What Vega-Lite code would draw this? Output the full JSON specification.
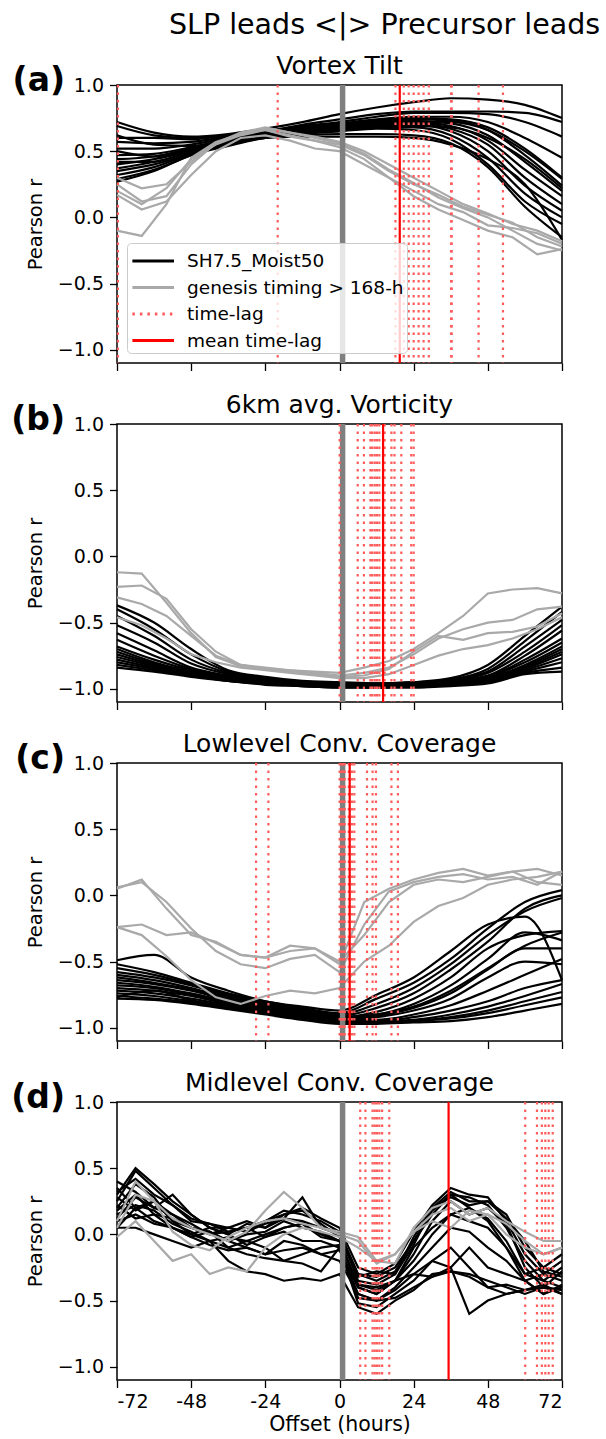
{
"$schema":"https://vega.github.io/schema/vega-lite/v6.json",
"background":"white",
"padding":{"left":10,"top":10,"right":5,"bottom":0},
"title":{"text":"SLP leads <|> Precursor leads","fontSize":28.5,"anchor":"end","dx":33,"offset":14},
"spacing":20,
"resolve":{"scale":{"color":"independent","strokeDash":"independent"}},
"config":{
 "font":"DejaVu Sans",
 "view":{"stroke":"#000000","strokeWidth":1.5},
 "axis":{"grid":false,"domain":false,"tickColor":"#000000","tickSize":7.5,"tickWidth":1.3,"labelColor":"#000000","labelFontSize":19,"labelFont":"DejaVu Sans","titleFont":"DejaVu Sans","titleFontSize":19.5,"titleFontWeight":"normal","titleColor":"#000000","labelPadding":6},
 "title":{"font":"DejaVu Sans","fontSize":25,"fontWeight":"normal","color":"#000000","offset":-14}
},
"datasets":{
"a":[
{"k":"b","s":1,"x":-72,"y":0.72},{"k":"b","s":1,"x":-60,"y":0.64},{"k":"b","s":1,"x":-48,"y":0.61},{"k":"b","s":1,"x":-36,"y":0.63},{"k":"b","s":1,"x":-24,"y":0.67},{"k":"b","s":1,"x":-12,"y":0.72},{"k":"b","s":1,"x":0,"y":0.78},{"k":"b","s":1,"x":12,"y":0.83},{"k":"b","s":1,"x":24,"y":0.87},{"k":"b","s":1,"x":36,"y":0.9},{"k":"b","s":1,"x":48,"y":0.89},{"k":"b","s":1,"x":60,"y":0.85},{"k":"b","s":1,"x":72,"y":0.75},
{"k":"b","s":2,"x":-72,"y":0.69},{"k":"b","s":2,"x":-60,"y":0.62},{"k":"b","s":2,"x":-48,"y":0.6},{"k":"b","s":2,"x":-36,"y":0.62},{"k":"b","s":2,"x":-24,"y":0.65},{"k":"b","s":2,"x":-12,"y":0.7},{"k":"b","s":2,"x":0,"y":0.74},{"k":"b","s":2,"x":12,"y":0.78},{"k":"b","s":2,"x":24,"y":0.8},{"k":"b","s":2,"x":36,"y":0.8},{"k":"b","s":2,"x":48,"y":0.8},{"k":"b","s":2,"x":60,"y":0.79},{"k":"b","s":2,"x":72,"y":0.72},
{"k":"b","s":3,"x":-72,"y":0.6},{"k":"b","s":3,"x":-60,"y":0.6},{"k":"b","s":3,"x":-48,"y":0.59},{"k":"b","s":3,"x":-36,"y":0.62},{"k":"b","s":3,"x":-24,"y":0.65},{"k":"b","s":3,"x":-12,"y":0.69},{"k":"b","s":3,"x":0,"y":0.72},{"k":"b","s":3,"x":12,"y":0.76},{"k":"b","s":3,"x":24,"y":0.79},{"k":"b","s":3,"x":36,"y":0.79},{"k":"b","s":3,"x":48,"y":0.78},{"k":"b","s":3,"x":60,"y":0.72},{"k":"b","s":3,"x":72,"y":0.61},
{"k":"b","s":4,"x":-72,"y":0.57},{"k":"b","s":4,"x":-60,"y":0.56},{"k":"b","s":4,"x":-48,"y":0.57},{"k":"b","s":4,"x":-36,"y":0.61},{"k":"b","s":4,"x":-24,"y":0.64},{"k":"b","s":4,"x":-12,"y":0.68},{"k":"b","s":4,"x":0,"y":0.71},{"k":"b","s":4,"x":12,"y":0.74},{"k":"b","s":4,"x":24,"y":0.76},{"k":"b","s":4,"x":36,"y":0.76},{"k":"b","s":4,"x":48,"y":0.72},{"k":"b","s":4,"x":60,"y":0.6},{"k":"b","s":4,"x":72,"y":0.45},
{"k":"b","s":5,"x":-72,"y":0.52},{"k":"b","s":5,"x":-60,"y":0.52},{"k":"b","s":5,"x":-48,"y":0.55},{"k":"b","s":5,"x":-36,"y":0.6},{"k":"b","s":5,"x":-24,"y":0.64},{"k":"b","s":5,"x":-12,"y":0.67},{"k":"b","s":5,"x":0,"y":0.7},{"k":"b","s":5,"x":12,"y":0.73},{"k":"b","s":5,"x":24,"y":0.75},{"k":"b","s":5,"x":36,"y":0.74},{"k":"b","s":5,"x":48,"y":0.68},{"k":"b","s":5,"x":60,"y":0.52},{"k":"b","s":5,"x":72,"y":0.3},
{"k":"b","s":6,"x":-72,"y":0.47},{"k":"b","s":6,"x":-60,"y":0.48},{"k":"b","s":6,"x":-48,"y":0.53},{"k":"b","s":6,"x":-36,"y":0.59},{"k":"b","s":6,"x":-24,"y":0.63},{"k":"b","s":6,"x":-12,"y":0.66},{"k":"b","s":6,"x":0,"y":0.69},{"k":"b","s":6,"x":12,"y":0.72},{"k":"b","s":6,"x":24,"y":0.74},{"k":"b","s":6,"x":36,"y":0.73},{"k":"b","s":6,"x":48,"y":0.66},{"k":"b","s":6,"x":60,"y":0.47},{"k":"b","s":6,"x":72,"y":0.24},
{"k":"b","s":7,"x":-72,"y":0.44},{"k":"b","s":7,"x":-60,"y":0.46},{"k":"b","s":7,"x":-48,"y":0.52},{"k":"b","s":7,"x":-36,"y":0.58},{"k":"b","s":7,"x":-24,"y":0.63},{"k":"b","s":7,"x":-12,"y":0.66},{"k":"b","s":7,"x":0,"y":0.69},{"k":"b","s":7,"x":12,"y":0.71},{"k":"b","s":7,"x":24,"y":0.73},{"k":"b","s":7,"x":36,"y":0.71},{"k":"b","s":7,"x":48,"y":0.62},{"k":"b","s":7,"x":60,"y":0.42},{"k":"b","s":7,"x":72,"y":0.2},
{"k":"b","s":8,"x":-72,"y":0.4},{"k":"b","s":8,"x":-60,"y":0.44},{"k":"b","s":8,"x":-48,"y":0.5},{"k":"b","s":8,"x":-36,"y":0.57},{"k":"b","s":8,"x":-24,"y":0.62},{"k":"b","s":8,"x":-12,"y":0.65},{"k":"b","s":8,"x":0,"y":0.68},{"k":"b","s":8,"x":12,"y":0.7},{"k":"b","s":8,"x":24,"y":0.72},{"k":"b","s":8,"x":36,"y":0.69},{"k":"b","s":8,"x":48,"y":0.58},{"k":"b","s":8,"x":60,"y":0.36},{"k":"b","s":8,"x":72,"y":0.16},
{"k":"b","s":9,"x":-72,"y":0.37},{"k":"b","s":9,"x":-60,"y":0.42},{"k":"b","s":9,"x":-48,"y":0.49},{"k":"b","s":9,"x":-36,"y":0.56},{"k":"b","s":9,"x":-24,"y":0.62},{"k":"b","s":9,"x":-12,"y":0.65},{"k":"b","s":9,"x":0,"y":0.68},{"k":"b","s":9,"x":12,"y":0.7},{"k":"b","s":9,"x":24,"y":0.71},{"k":"b","s":9,"x":36,"y":0.67},{"k":"b","s":9,"x":48,"y":0.55},{"k":"b","s":9,"x":60,"y":0.3},{"k":"b","s":9,"x":72,"y":0.1},
{"k":"b","s":10,"x":-72,"y":0.35},{"k":"b","s":10,"x":-60,"y":0.4},{"k":"b","s":10,"x":-48,"y":0.48},{"k":"b","s":10,"x":-36,"y":0.56},{"k":"b","s":10,"x":-24,"y":0.61},{"k":"b","s":10,"x":-12,"y":0.64},{"k":"b","s":10,"x":0,"y":0.67},{"k":"b","s":10,"x":12,"y":0.69},{"k":"b","s":10,"x":24,"y":0.7},{"k":"b","s":10,"x":36,"y":0.65},{"k":"b","s":10,"x":48,"y":0.5},{"k":"b","s":10,"x":60,"y":0.24},{"k":"b","s":10,"x":72,"y":0.05},
{"k":"b","s":11,"x":-72,"y":0.32},{"k":"b","s":11,"x":-60,"y":0.38},{"k":"b","s":11,"x":-48,"y":0.48},{"k":"b","s":11,"x":-36,"y":0.55},{"k":"b","s":11,"x":-24,"y":0.61},{"k":"b","s":11,"x":-12,"y":0.64},{"k":"b","s":11,"x":0,"y":0.66},{"k":"b","s":11,"x":12,"y":0.68},{"k":"b","s":11,"x":24,"y":0.68},{"k":"b","s":11,"x":36,"y":0.62},{"k":"b","s":11,"x":48,"y":0.45},{"k":"b","s":11,"x":60,"y":0.18},{"k":"b","s":11,"x":72,"y":0.0},
{"k":"b","s":12,"x":-72,"y":0.29},{"k":"b","s":12,"x":-60,"y":0.36},{"k":"b","s":12,"x":-48,"y":0.47},{"k":"b","s":12,"x":-36,"y":0.55},{"k":"b","s":12,"x":-24,"y":0.6},{"k":"b","s":12,"x":-12,"y":0.63},{"k":"b","s":12,"x":0,"y":0.65},{"k":"b","s":12,"x":12,"y":0.67},{"k":"b","s":12,"x":24,"y":0.66},{"k":"b","s":12,"x":36,"y":0.59},{"k":"b","s":12,"x":48,"y":0.4},{"k":"b","s":12,"x":60,"y":0.12},{"k":"b","s":12,"x":72,"y":-0.05},
{"k":"b","s":13,"x":-72,"y":0.27},{"k":"b","s":13,"x":-60,"y":0.35},{"k":"b","s":13,"x":-48,"y":0.47},{"k":"b","s":13,"x":-36,"y":0.54},{"k":"b","s":13,"x":-24,"y":0.6},{"k":"b","s":13,"x":-12,"y":0.62},{"k":"b","s":13,"x":0,"y":0.63},{"k":"b","s":13,"x":12,"y":0.63},{"k":"b","s":13,"x":24,"y":0.62},{"k":"b","s":13,"x":36,"y":0.56},{"k":"b","s":13,"x":48,"y":0.38},{"k":"b","s":13,"x":60,"y":0.08},{"k":"b","s":13,"x":72,"y":-0.15},
{"k":"b","s":14,"x":-72,"y":0.42},{"k":"b","s":14,"x":-60,"y":0.42},{"k":"b","s":14,"x":-48,"y":0.5},{"k":"b","s":14,"x":-36,"y":0.56},{"k":"b","s":14,"x":-24,"y":0.6},{"k":"b","s":14,"x":-12,"y":0.61},{"k":"b","s":14,"x":0,"y":0.61},{"k":"b","s":14,"x":12,"y":0.61},{"k":"b","s":14,"x":24,"y":0.6},{"k":"b","s":14,"x":36,"y":0.55},{"k":"b","s":14,"x":48,"y":0.44},{"k":"b","s":14,"x":60,"y":0.25},{"k":"b","s":14,"x":72,"y":-0.17},
{"k":"b","s":15,"x":-72,"y":0.5},{"k":"b","s":15,"x":-60,"y":0.46},{"k":"b","s":15,"x":-48,"y":0.51},{"k":"b","s":15,"x":-36,"y":0.57},{"k":"b","s":15,"x":-24,"y":0.62},{"k":"b","s":15,"x":-12,"y":0.64},{"k":"b","s":15,"x":0,"y":0.66},{"k":"b","s":15,"x":12,"y":0.68},{"k":"b","s":15,"x":24,"y":0.69},{"k":"b","s":15,"x":36,"y":0.68},{"k":"b","s":15,"x":48,"y":0.6},{"k":"b","s":15,"x":60,"y":0.44},{"k":"b","s":15,"x":72,"y":0.22},
{"k":"b","s":16,"x":-72,"y":0.62},{"k":"b","s":16,"x":-60,"y":0.55},{"k":"b","s":16,"x":-48,"y":0.54},{"k":"b","s":16,"x":-36,"y":0.58},{"k":"b","s":16,"x":-24,"y":0.62},{"k":"b","s":16,"x":-12,"y":0.65},{"k":"b","s":16,"x":0,"y":0.67},{"k":"b","s":16,"x":12,"y":0.7},{"k":"b","s":16,"x":24,"y":0.72},{"k":"b","s":16,"x":36,"y":0.72},{"k":"b","s":16,"x":48,"y":0.66},{"k":"b","s":16,"x":60,"y":0.5},{"k":"b","s":16,"x":72,"y":0.29},
{"k":"g","s":21,"x":-72,"y":0.25},{"k":"g","s":21,"x":-64,"y":0.12},{"k":"g","s":21,"x":-56,"y":0.16},{"k":"g","s":21,"x":-48,"y":0.4},{"k":"g","s":21,"x":-40,"y":0.56},{"k":"g","s":21,"x":-32,"y":0.64},{"k":"g","s":21,"x":-24,"y":0.68},{"k":"g","s":21,"x":-16,"y":0.64},{"k":"g","s":21,"x":-8,"y":0.6},{"k":"g","s":21,"x":0,"y":0.56},{"k":"g","s":21,"x":8,"y":0.48},{"k":"g","s":21,"x":16,"y":0.36},{"k":"g","s":21,"x":24,"y":0.26},{"k":"g","s":21,"x":32,"y":0.15},{"k":"g","s":21,"x":40,"y":0.07},{"k":"g","s":21,"x":48,"y":0.0},{"k":"g","s":21,"x":56,"y":-0.1},{"k":"g","s":21,"x":64,"y":-0.2},{"k":"g","s":21,"x":72,"y":-0.25},
{"k":"g","s":22,"x":-72,"y":0.2},{"k":"g","s":22,"x":-64,"y":0.1},{"k":"g","s":22,"x":-56,"y":0.22},{"k":"g","s":22,"x":-48,"y":0.44},{"k":"g","s":22,"x":-40,"y":0.55},{"k":"g","s":22,"x":-32,"y":0.62},{"k":"g","s":22,"x":-24,"y":0.66},{"k":"g","s":22,"x":-16,"y":0.62},{"k":"g","s":22,"x":-8,"y":0.58},{"k":"g","s":22,"x":0,"y":0.53},{"k":"g","s":22,"x":8,"y":0.44},{"k":"g","s":22,"x":16,"y":0.3},{"k":"g","s":22,"x":24,"y":0.2},{"k":"g","s":22,"x":32,"y":0.1},{"k":"g","s":22,"x":40,"y":0.04},{"k":"g","s":22,"x":48,"y":-0.06},{"k":"g","s":22,"x":56,"y":-0.08},{"k":"g","s":22,"x":64,"y":-0.12},{"k":"g","s":22,"x":72,"y":-0.2},
{"k":"g","s":23,"x":-72,"y":-0.1},{"k":"g","s":23,"x":-64,"y":-0.14},{"k":"g","s":23,"x":-56,"y":0.1},{"k":"g","s":23,"x":-48,"y":0.45},{"k":"g","s":23,"x":-40,"y":0.57},{"k":"g","s":23,"x":-32,"y":0.63},{"k":"g","s":23,"x":-24,"y":0.66},{"k":"g","s":23,"x":-16,"y":0.61},{"k":"g","s":23,"x":-8,"y":0.58},{"k":"g","s":23,"x":0,"y":0.55},{"k":"g","s":23,"x":8,"y":0.47},{"k":"g","s":23,"x":16,"y":0.35},{"k":"g","s":23,"x":24,"y":0.25},{"k":"g","s":23,"x":32,"y":0.17},{"k":"g","s":23,"x":40,"y":0.08},{"k":"g","s":23,"x":48,"y":0.02},{"k":"g","s":23,"x":56,"y":-0.04},{"k":"g","s":23,"x":64,"y":-0.15},{"k":"g","s":23,"x":72,"y":-0.22},
{"k":"g","s":24,"x":-72,"y":0.17},{"k":"g","s":24,"x":-64,"y":0.06},{"k":"g","s":24,"x":-56,"y":0.12},{"k":"g","s":24,"x":-48,"y":0.32},{"k":"g","s":24,"x":-40,"y":0.5},{"k":"g","s":24,"x":-32,"y":0.6},{"k":"g","s":24,"x":-24,"y":0.62},{"k":"g","s":24,"x":-16,"y":0.58},{"k":"g","s":24,"x":-8,"y":0.52},{"k":"g","s":24,"x":0,"y":0.5},{"k":"g","s":24,"x":8,"y":0.4},{"k":"g","s":24,"x":16,"y":0.3},{"k":"g","s":24,"x":24,"y":0.16},{"k":"g","s":24,"x":32,"y":0.06},{"k":"g","s":24,"x":40,"y":-0.02},{"k":"g","s":24,"x":48,"y":-0.1},{"k":"g","s":24,"x":56,"y":-0.15},{"k":"g","s":24,"x":64,"y":-0.28},{"k":"g","s":24,"x":72,"y":-0.24},
{"k":"g","s":25,"x":-72,"y":0.3},{"k":"g","s":25,"x":-64,"y":0.22},{"k":"g","s":25,"x":-56,"y":0.25},{"k":"g","s":25,"x":-48,"y":0.42},{"k":"g","s":25,"x":-40,"y":0.56},{"k":"g","s":25,"x":-32,"y":0.63},{"k":"g","s":25,"x":-24,"y":0.67},{"k":"g","s":25,"x":-16,"y":0.64},{"k":"g","s":25,"x":-8,"y":0.61},{"k":"g","s":25,"x":0,"y":0.57},{"k":"g","s":25,"x":8,"y":0.5},{"k":"g","s":25,"x":16,"y":0.4},{"k":"g","s":25,"x":24,"y":0.3},{"k":"g","s":25,"x":32,"y":0.2},{"k":"g","s":25,"x":40,"y":0.1},{"k":"g","s":25,"x":48,"y":0.03},{"k":"g","s":25,"x":56,"y":-0.05},{"k":"g","s":25,"x":64,"y":-0.1},{"k":"g","s":25,"x":72,"y":-0.18}
],
"b":[
{"k":"b","s":1,"x":-72,"y":-0.37},{"k":"b","s":1,"x":-60,"y":-0.5},{"k":"b","s":1,"x":-48,"y":-0.7},{"k":"b","s":1,"x":-36,"y":-0.86},{"k":"b","s":1,"x":-24,"y":-0.91},{"k":"b","s":1,"x":-12,"y":-0.94},{"k":"b","s":1,"x":0,"y":-0.95},{"k":"b","s":1,"x":12,"y":-0.96},{"k":"b","s":1,"x":24,"y":-0.95},{"k":"b","s":1,"x":36,"y":-0.92},{"k":"b","s":1,"x":48,"y":-0.82},{"k":"b","s":1,"x":60,"y":-0.6},{"k":"b","s":1,"x":72,"y":-0.38},
{"k":"b","s":2,"x":-72,"y":-0.4},{"k":"b","s":2,"x":-60,"y":-0.55},{"k":"b","s":2,"x":-48,"y":-0.74},{"k":"b","s":2,"x":-36,"y":-0.87},{"k":"b","s":2,"x":-24,"y":-0.92},{"k":"b","s":2,"x":-12,"y":-0.95},{"k":"b","s":2,"x":0,"y":-0.96},{"k":"b","s":2,"x":12,"y":-0.96},{"k":"b","s":2,"x":24,"y":-0.95},{"k":"b","s":2,"x":36,"y":-0.93},{"k":"b","s":2,"x":48,"y":-0.85},{"k":"b","s":2,"x":60,"y":-0.64},{"k":"b","s":2,"x":72,"y":-0.42},
{"k":"b","s":3,"x":-72,"y":-0.45},{"k":"b","s":3,"x":-60,"y":-0.6},{"k":"b","s":3,"x":-48,"y":-0.78},{"k":"b","s":3,"x":-36,"y":-0.88},{"k":"b","s":3,"x":-24,"y":-0.93},{"k":"b","s":3,"x":-12,"y":-0.95},{"k":"b","s":3,"x":0,"y":-0.96},{"k":"b","s":3,"x":12,"y":-0.97},{"k":"b","s":3,"x":24,"y":-0.96},{"k":"b","s":3,"x":36,"y":-0.93},{"k":"b","s":3,"x":48,"y":-0.87},{"k":"b","s":3,"x":60,"y":-0.68},{"k":"b","s":3,"x":72,"y":-0.48},
{"k":"b","s":4,"x":-72,"y":-0.52},{"k":"b","s":4,"x":-60,"y":-0.65},{"k":"b","s":4,"x":-48,"y":-0.81},{"k":"b","s":4,"x":-36,"y":-0.89},{"k":"b","s":4,"x":-24,"y":-0.93},{"k":"b","s":4,"x":-12,"y":-0.95},{"k":"b","s":4,"x":0,"y":-0.97},{"k":"b","s":4,"x":12,"y":-0.97},{"k":"b","s":4,"x":24,"y":-0.96},{"k":"b","s":4,"x":36,"y":-0.94},{"k":"b","s":4,"x":48,"y":-0.88},{"k":"b","s":4,"x":60,"y":-0.72},{"k":"b","s":4,"x":72,"y":-0.52},
{"k":"b","s":5,"x":-72,"y":-0.58},{"k":"b","s":5,"x":-60,"y":-0.71},{"k":"b","s":5,"x":-48,"y":-0.84},{"k":"b","s":5,"x":-36,"y":-0.9},{"k":"b","s":5,"x":-24,"y":-0.94},{"k":"b","s":5,"x":-12,"y":-0.96},{"k":"b","s":5,"x":0,"y":-0.97},{"k":"b","s":5,"x":12,"y":-0.97},{"k":"b","s":5,"x":24,"y":-0.96},{"k":"b","s":5,"x":36,"y":-0.94},{"k":"b","s":5,"x":48,"y":-0.9},{"k":"b","s":5,"x":60,"y":-0.75},{"k":"b","s":5,"x":72,"y":-0.56},
{"k":"b","s":6,"x":-72,"y":-0.63},{"k":"b","s":6,"x":-60,"y":-0.75},{"k":"b","s":6,"x":-48,"y":-0.85},{"k":"b","s":6,"x":-36,"y":-0.91},{"k":"b","s":6,"x":-24,"y":-0.94},{"k":"b","s":6,"x":-12,"y":-0.96},{"k":"b","s":6,"x":0,"y":-0.97},{"k":"b","s":6,"x":12,"y":-0.98},{"k":"b","s":6,"x":24,"y":-0.97},{"k":"b","s":6,"x":36,"y":-0.95},{"k":"b","s":6,"x":48,"y":-0.91},{"k":"b","s":6,"x":60,"y":-0.78},{"k":"b","s":6,"x":72,"y":-0.62},
{"k":"b","s":7,"x":-72,"y":-0.68},{"k":"b","s":7,"x":-60,"y":-0.78},{"k":"b","s":7,"x":-48,"y":-0.86},{"k":"b","s":7,"x":-36,"y":-0.91},{"k":"b","s":7,"x":-24,"y":-0.94},{"k":"b","s":7,"x":-12,"y":-0.96},{"k":"b","s":7,"x":0,"y":-0.97},{"k":"b","s":7,"x":12,"y":-0.98},{"k":"b","s":7,"x":24,"y":-0.97},{"k":"b","s":7,"x":36,"y":-0.95},{"k":"b","s":7,"x":48,"y":-0.91},{"k":"b","s":7,"x":60,"y":-0.8},{"k":"b","s":7,"x":72,"y":-0.65},
{"k":"b","s":8,"x":-72,"y":-0.7},{"k":"b","s":8,"x":-60,"y":-0.8},{"k":"b","s":8,"x":-48,"y":-0.87},{"k":"b","s":8,"x":-36,"y":-0.92},{"k":"b","s":8,"x":-24,"y":-0.95},{"k":"b","s":8,"x":-12,"y":-0.97},{"k":"b","s":8,"x":0,"y":-0.98},{"k":"b","s":8,"x":12,"y":-0.98},{"k":"b","s":8,"x":24,"y":-0.97},{"k":"b","s":8,"x":36,"y":-0.95},{"k":"b","s":8,"x":48,"y":-0.92},{"k":"b","s":8,"x":60,"y":-0.82},{"k":"b","s":8,"x":72,"y":-0.68},
{"k":"b","s":9,"x":-72,"y":-0.72},{"k":"b","s":9,"x":-60,"y":-0.81},{"k":"b","s":9,"x":-48,"y":-0.88},{"k":"b","s":9,"x":-36,"y":-0.92},{"k":"b","s":9,"x":-24,"y":-0.95},{"k":"b","s":9,"x":-12,"y":-0.97},{"k":"b","s":9,"x":0,"y":-0.98},{"k":"b","s":9,"x":12,"y":-0.98},{"k":"b","s":9,"x":24,"y":-0.97},{"k":"b","s":9,"x":36,"y":-0.96},{"k":"b","s":9,"x":48,"y":-0.92},{"k":"b","s":9,"x":60,"y":-0.83},{"k":"b","s":9,"x":72,"y":-0.7},
{"k":"b","s":10,"x":-72,"y":-0.74},{"k":"b","s":10,"x":-60,"y":-0.82},{"k":"b","s":10,"x":-48,"y":-0.88},{"k":"b","s":10,"x":-36,"y":-0.93},{"k":"b","s":10,"x":-24,"y":-0.95},{"k":"b","s":10,"x":-12,"y":-0.97},{"k":"b","s":10,"x":0,"y":-0.98},{"k":"b","s":10,"x":12,"y":-0.98},{"k":"b","s":10,"x":24,"y":-0.98},{"k":"b","s":10,"x":36,"y":-0.96},{"k":"b","s":10,"x":48,"y":-0.93},{"k":"b","s":10,"x":60,"y":-0.84},{"k":"b","s":10,"x":72,"y":-0.72},
{"k":"b","s":11,"x":-72,"y":-0.76},{"k":"b","s":11,"x":-60,"y":-0.83},{"k":"b","s":11,"x":-48,"y":-0.89},{"k":"b","s":11,"x":-36,"y":-0.93},{"k":"b","s":11,"x":-24,"y":-0.96},{"k":"b","s":11,"x":-12,"y":-0.97},{"k":"b","s":11,"x":0,"y":-0.98},{"k":"b","s":11,"x":12,"y":-0.99},{"k":"b","s":11,"x":24,"y":-0.98},{"k":"b","s":11,"x":36,"y":-0.96},{"k":"b","s":11,"x":48,"y":-0.93},{"k":"b","s":11,"x":60,"y":-0.85},{"k":"b","s":11,"x":72,"y":-0.74},
{"k":"b","s":12,"x":-72,"y":-0.78},{"k":"b","s":12,"x":-60,"y":-0.84},{"k":"b","s":12,"x":-48,"y":-0.89},{"k":"b","s":12,"x":-36,"y":-0.93},{"k":"b","s":12,"x":-24,"y":-0.96},{"k":"b","s":12,"x":-12,"y":-0.97},{"k":"b","s":12,"x":0,"y":-0.98},{"k":"b","s":12,"x":12,"y":-0.99},{"k":"b","s":12,"x":24,"y":-0.98},{"k":"b","s":12,"x":36,"y":-0.97},{"k":"b","s":12,"x":48,"y":-0.94},{"k":"b","s":12,"x":60,"y":-0.86},{"k":"b","s":12,"x":72,"y":-0.77},
{"k":"b","s":13,"x":-72,"y":-0.8},{"k":"b","s":13,"x":-60,"y":-0.85},{"k":"b","s":13,"x":-48,"y":-0.9},{"k":"b","s":13,"x":-36,"y":-0.94},{"k":"b","s":13,"x":-24,"y":-0.96},{"k":"b","s":13,"x":-12,"y":-0.98},{"k":"b","s":13,"x":0,"y":-0.99},{"k":"b","s":13,"x":12,"y":-0.99},{"k":"b","s":13,"x":24,"y":-0.98},{"k":"b","s":13,"x":36,"y":-0.97},{"k":"b","s":13,"x":48,"y":-0.94},{"k":"b","s":13,"x":60,"y":-0.87},{"k":"b","s":13,"x":72,"y":-0.8},
{"k":"b","s":14,"x":-72,"y":-0.82},{"k":"b","s":14,"x":-60,"y":-0.86},{"k":"b","s":14,"x":-48,"y":-0.9},{"k":"b","s":14,"x":-36,"y":-0.94},{"k":"b","s":14,"x":-24,"y":-0.96},{"k":"b","s":14,"x":-12,"y":-0.98},{"k":"b","s":14,"x":0,"y":-0.99},{"k":"b","s":14,"x":12,"y":-0.99},{"k":"b","s":14,"x":24,"y":-0.99},{"k":"b","s":14,"x":36,"y":-0.97},{"k":"b","s":14,"x":48,"y":-0.95},{"k":"b","s":14,"x":60,"y":-0.88},{"k":"b","s":14,"x":72,"y":-0.84},
{"k":"b","s":15,"x":-72,"y":-0.84},{"k":"b","s":15,"x":-60,"y":-0.87},{"k":"b","s":15,"x":-48,"y":-0.91},{"k":"b","s":15,"x":-36,"y":-0.94},{"k":"b","s":15,"x":-24,"y":-0.97},{"k":"b","s":15,"x":-12,"y":-0.98},{"k":"b","s":15,"x":0,"y":-0.99},{"k":"b","s":15,"x":12,"y":-0.99},{"k":"b","s":15,"x":24,"y":-0.99},{"k":"b","s":15,"x":36,"y":-0.98},{"k":"b","s":15,"x":48,"y":-0.96},{"k":"b","s":15,"x":60,"y":-0.89},{"k":"b","s":15,"x":72,"y":-0.87},
{"k":"g","s":21,"x":-72,"y":-0.12},{"k":"g","s":21,"x":-64,"y":-0.13},{"k":"g","s":21,"x":-56,"y":-0.35},{"k":"g","s":21,"x":-48,"y":-0.58},{"k":"g","s":21,"x":-40,"y":-0.76},{"k":"g","s":21,"x":-32,"y":-0.83},{"k":"g","s":21,"x":-24,"y":-0.85},{"k":"g","s":21,"x":-16,"y":-0.86},{"k":"g","s":21,"x":-8,"y":-0.87},{"k":"g","s":21,"x":0,"y":-0.88},{"k":"g","s":21,"x":8,"y":-0.84},{"k":"g","s":21,"x":16,"y":-0.79},{"k":"g","s":21,"x":24,"y":-0.7},{"k":"g","s":21,"x":32,"y":-0.58},{"k":"g","s":21,"x":40,"y":-0.45},{"k":"g","s":21,"x":48,"y":-0.28},{"k":"g","s":21,"x":56,"y":-0.25},{"k":"g","s":21,"x":64,"y":-0.24},{"k":"g","s":21,"x":72,"y":-0.28},
{"k":"g","s":22,"x":-72,"y":-0.23},{"k":"g","s":22,"x":-64,"y":-0.22},{"k":"g","s":22,"x":-56,"y":-0.32},{"k":"g","s":22,"x":-48,"y":-0.55},{"k":"g","s":22,"x":-40,"y":-0.72},{"k":"g","s":22,"x":-32,"y":-0.82},{"k":"g","s":22,"x":-24,"y":-0.84},{"k":"g","s":22,"x":-16,"y":-0.86},{"k":"g","s":22,"x":-8,"y":-0.88},{"k":"g","s":22,"x":0,"y":-0.9},{"k":"g","s":22,"x":8,"y":-0.88},{"k":"g","s":22,"x":16,"y":-0.84},{"k":"g","s":22,"x":24,"y":-0.74},{"k":"g","s":22,"x":32,"y":-0.62},{"k":"g","s":22,"x":40,"y":-0.55},{"k":"g","s":22,"x":48,"y":-0.5},{"k":"g","s":22,"x":56,"y":-0.48},{"k":"g","s":22,"x":64,"y":-0.4},{"k":"g","s":22,"x":72,"y":-0.38},
{"k":"g","s":23,"x":-72,"y":-0.31},{"k":"g","s":23,"x":-64,"y":-0.36},{"k":"g","s":23,"x":-56,"y":-0.45},{"k":"g","s":23,"x":-48,"y":-0.6},{"k":"g","s":23,"x":-40,"y":-0.75},{"k":"g","s":23,"x":-32,"y":-0.82},{"k":"g","s":23,"x":-24,"y":-0.85},{"k":"g","s":23,"x":-16,"y":-0.87},{"k":"g","s":23,"x":-8,"y":-0.89},{"k":"g","s":23,"x":0,"y":-0.91},{"k":"g","s":23,"x":8,"y":-0.9},{"k":"g","s":23,"x":16,"y":-0.85},{"k":"g","s":23,"x":24,"y":-0.72},{"k":"g","s":23,"x":32,"y":-0.6},{"k":"g","s":23,"x":40,"y":-0.63},{"k":"g","s":23,"x":48,"y":-0.58},{"k":"g","s":23,"x":56,"y":-0.57},{"k":"g","s":23,"x":64,"y":-0.53},{"k":"g","s":23,"x":72,"y":-0.43},
{"k":"g","s":24,"x":-72,"y":-0.46},{"k":"g","s":24,"x":-64,"y":-0.52},{"k":"g","s":24,"x":-56,"y":-0.62},{"k":"g","s":24,"x":-48,"y":-0.74},{"k":"g","s":24,"x":-40,"y":-0.8},{"k":"g","s":24,"x":-32,"y":-0.84},{"k":"g","s":24,"x":-24,"y":-0.86},{"k":"g","s":24,"x":-16,"y":-0.88},{"k":"g","s":24,"x":-8,"y":-0.9},{"k":"g","s":24,"x":0,"y":-0.92},{"k":"g","s":24,"x":8,"y":-0.92},{"k":"g","s":24,"x":16,"y":-0.89},{"k":"g","s":24,"x":24,"y":-0.82},{"k":"g","s":24,"x":32,"y":-0.75},{"k":"g","s":24,"x":40,"y":-0.7},{"k":"g","s":24,"x":48,"y":-0.67},{"k":"g","s":24,"x":56,"y":-0.62},{"k":"g","s":24,"x":64,"y":-0.55},{"k":"g","s":24,"x":72,"y":-0.46}
],
"c":[
{"k":"b","s":1,"x":-72,"y":-0.49},{"k":"b","s":1,"x":-60,"y":-0.45},{"k":"b","s":1,"x":-48,"y":-0.62},{"k":"b","s":1,"x":-36,"y":-0.72},{"k":"b","s":1,"x":-24,"y":-0.8},{"k":"b","s":1,"x":-12,"y":-0.84},{"k":"b","s":1,"x":0,"y":-0.87},{"k":"b","s":1,"x":12,"y":-0.75},{"k":"b","s":1,"x":24,"y":-0.62},{"k":"b","s":1,"x":36,"y":-0.42},{"k":"b","s":1,"x":48,"y":-0.22},{"k":"b","s":1,"x":60,"y":-0.16},{"k":"b","s":1,"x":72,"y":-0.64},
{"k":"b","s":2,"x":-72,"y":-0.52},{"k":"b","s":2,"x":-60,"y":-0.58},{"k":"b","s":2,"x":-48,"y":-0.66},{"k":"b","s":2,"x":-36,"y":-0.74},{"k":"b","s":2,"x":-24,"y":-0.8},{"k":"b","s":2,"x":-12,"y":-0.85},{"k":"b","s":2,"x":0,"y":-0.89},{"k":"b","s":2,"x":12,"y":-0.78},{"k":"b","s":2,"x":24,"y":-0.66},{"k":"b","s":2,"x":36,"y":-0.48},{"k":"b","s":2,"x":48,"y":-0.25},{"k":"b","s":2,"x":60,"y":-0.05},{"k":"b","s":2,"x":72,"y":0.04},
{"k":"b","s":3,"x":-72,"y":-0.55},{"k":"b","s":3,"x":-60,"y":-0.6},{"k":"b","s":3,"x":-48,"y":-0.67},{"k":"b","s":3,"x":-36,"y":-0.75},{"k":"b","s":3,"x":-24,"y":-0.81},{"k":"b","s":3,"x":-12,"y":-0.86},{"k":"b","s":3,"x":0,"y":-0.9},{"k":"b","s":3,"x":12,"y":-0.82},{"k":"b","s":3,"x":24,"y":-0.7},{"k":"b","s":3,"x":36,"y":-0.52},{"k":"b","s":3,"x":48,"y":-0.3},{"k":"b","s":3,"x":60,"y":-0.12},{"k":"b","s":3,"x":72,"y":-0.02},
{"k":"b","s":4,"x":-72,"y":-0.58},{"k":"b","s":4,"x":-60,"y":-0.62},{"k":"b","s":4,"x":-48,"y":-0.68},{"k":"b","s":4,"x":-36,"y":-0.76},{"k":"b","s":4,"x":-24,"y":-0.82},{"k":"b","s":4,"x":-12,"y":-0.87},{"k":"b","s":4,"x":0,"y":-0.91},{"k":"b","s":4,"x":12,"y":-0.85},{"k":"b","s":4,"x":24,"y":-0.74},{"k":"b","s":4,"x":36,"y":-0.56},{"k":"b","s":4,"x":48,"y":-0.35},{"k":"b","s":4,"x":60,"y":-0.1},{"k":"b","s":4,"x":72,"y":0.0},
{"k":"b","s":5,"x":-72,"y":-0.6},{"k":"b","s":5,"x":-60,"y":-0.64},{"k":"b","s":5,"x":-48,"y":-0.7},{"k":"b","s":5,"x":-36,"y":-0.77},{"k":"b","s":5,"x":-24,"y":-0.83},{"k":"b","s":5,"x":-12,"y":-0.88},{"k":"b","s":5,"x":0,"y":-0.92},{"k":"b","s":5,"x":12,"y":-0.88},{"k":"b","s":5,"x":24,"y":-0.78},{"k":"b","s":5,"x":36,"y":-0.62},{"k":"b","s":5,"x":48,"y":-0.4},{"k":"b","s":5,"x":60,"y":-0.3},{"k":"b","s":5,"x":72,"y":-0.27},
{"k":"b","s":6,"x":-72,"y":-0.62},{"k":"b","s":6,"x":-60,"y":-0.66},{"k":"b","s":6,"x":-48,"y":-0.71},{"k":"b","s":6,"x":-36,"y":-0.78},{"k":"b","s":6,"x":-24,"y":-0.84},{"k":"b","s":6,"x":-12,"y":-0.88},{"k":"b","s":6,"x":0,"y":-0.92},{"k":"b","s":6,"x":12,"y":-0.9},{"k":"b","s":6,"x":24,"y":-0.82},{"k":"b","s":6,"x":36,"y":-0.68},{"k":"b","s":6,"x":48,"y":-0.48},{"k":"b","s":6,"x":60,"y":-0.28},{"k":"b","s":6,"x":72,"y":-0.34},
{"k":"b","s":7,"x":-72,"y":-0.64},{"k":"b","s":7,"x":-60,"y":-0.67},{"k":"b","s":7,"x":-48,"y":-0.72},{"k":"b","s":7,"x":-36,"y":-0.79},{"k":"b","s":7,"x":-24,"y":-0.84},{"k":"b","s":7,"x":-12,"y":-0.89},{"k":"b","s":7,"x":0,"y":-0.93},{"k":"b","s":7,"x":12,"y":-0.91},{"k":"b","s":7,"x":24,"y":-0.85},{"k":"b","s":7,"x":36,"y":-0.74},{"k":"b","s":7,"x":48,"y":-0.56},{"k":"b","s":7,"x":60,"y":-0.4},{"k":"b","s":7,"x":72,"y":-0.4},
{"k":"b","s":8,"x":-72,"y":-0.66},{"k":"b","s":8,"x":-60,"y":-0.69},{"k":"b","s":8,"x":-48,"y":-0.74},{"k":"b","s":8,"x":-36,"y":-0.8},{"k":"b","s":8,"x":-24,"y":-0.85},{"k":"b","s":8,"x":-12,"y":-0.9},{"k":"b","s":8,"x":0,"y":-0.94},{"k":"b","s":8,"x":12,"y":-0.92},{"k":"b","s":8,"x":24,"y":-0.87},{"k":"b","s":8,"x":36,"y":-0.78},{"k":"b","s":8,"x":48,"y":-0.62},{"k":"b","s":8,"x":60,"y":-0.5},{"k":"b","s":8,"x":72,"y":-0.52},
{"k":"b","s":9,"x":-72,"y":-0.68},{"k":"b","s":9,"x":-60,"y":-0.7},{"k":"b","s":9,"x":-48,"y":-0.75},{"k":"b","s":9,"x":-36,"y":-0.81},{"k":"b","s":9,"x":-24,"y":-0.86},{"k":"b","s":9,"x":-12,"y":-0.91},{"k":"b","s":9,"x":0,"y":-0.94},{"k":"b","s":9,"x":12,"y":-0.94},{"k":"b","s":9,"x":24,"y":-0.9},{"k":"b","s":9,"x":36,"y":-0.83},{"k":"b","s":9,"x":48,"y":-0.72},{"k":"b","s":9,"x":60,"y":-0.6},{"k":"b","s":9,"x":72,"y":-0.48},
{"k":"b","s":10,"x":-72,"y":-0.7},{"k":"b","s":10,"x":-60,"y":-0.72},{"k":"b","s":10,"x":-48,"y":-0.76},{"k":"b","s":10,"x":-36,"y":-0.82},{"k":"b","s":10,"x":-24,"y":-0.86},{"k":"b","s":10,"x":-12,"y":-0.91},{"k":"b","s":10,"x":0,"y":-0.95},{"k":"b","s":10,"x":12,"y":-0.95},{"k":"b","s":10,"x":24,"y":-0.92},{"k":"b","s":10,"x":36,"y":-0.87},{"k":"b","s":10,"x":48,"y":-0.8},{"k":"b","s":10,"x":60,"y":-0.7},{"k":"b","s":10,"x":72,"y":-0.64},
{"k":"b","s":11,"x":-72,"y":-0.72},{"k":"b","s":11,"x":-60,"y":-0.74},{"k":"b","s":11,"x":-48,"y":-0.78},{"k":"b","s":11,"x":-36,"y":-0.83},{"k":"b","s":11,"x":-24,"y":-0.87},{"k":"b","s":11,"x":-12,"y":-0.92},{"k":"b","s":11,"x":0,"y":-0.95},{"k":"b","s":11,"x":12,"y":-0.95},{"k":"b","s":11,"x":24,"y":-0.94},{"k":"b","s":11,"x":36,"y":-0.9},{"k":"b","s":11,"x":48,"y":-0.84},{"k":"b","s":11,"x":60,"y":-0.76},{"k":"b","s":11,"x":72,"y":-0.67},
{"k":"b","s":12,"x":-72,"y":-0.74},{"k":"b","s":12,"x":-60,"y":-0.76},{"k":"b","s":12,"x":-48,"y":-0.8},{"k":"b","s":12,"x":-36,"y":-0.84},{"k":"b","s":12,"x":-24,"y":-0.88},{"k":"b","s":12,"x":-12,"y":-0.92},{"k":"b","s":12,"x":0,"y":-0.96},{"k":"b","s":12,"x":12,"y":-0.96},{"k":"b","s":12,"x":24,"y":-0.95},{"k":"b","s":12,"x":36,"y":-0.92},{"k":"b","s":12,"x":48,"y":-0.87},{"k":"b","s":12,"x":60,"y":-0.8},{"k":"b","s":12,"x":72,"y":-0.73},
{"k":"b","s":13,"x":-72,"y":-0.76},{"k":"b","s":13,"x":-60,"y":-0.78},{"k":"b","s":13,"x":-48,"y":-0.81},{"k":"b","s":13,"x":-36,"y":-0.85},{"k":"b","s":13,"x":-24,"y":-0.89},{"k":"b","s":13,"x":-12,"y":-0.93},{"k":"b","s":13,"x":0,"y":-0.96},{"k":"b","s":13,"x":12,"y":-0.96},{"k":"b","s":13,"x":24,"y":-0.95},{"k":"b","s":13,"x":36,"y":-0.93},{"k":"b","s":13,"x":48,"y":-0.89},{"k":"b","s":13,"x":60,"y":-0.83},{"k":"b","s":13,"x":72,"y":-0.77},
{"k":"b","s":14,"x":-72,"y":-0.78},{"k":"b","s":14,"x":-60,"y":-0.79},{"k":"b","s":14,"x":-48,"y":-0.82},{"k":"b","s":14,"x":-36,"y":-0.86},{"k":"b","s":14,"x":-24,"y":-0.9},{"k":"b","s":14,"x":-12,"y":-0.94},{"k":"b","s":14,"x":0,"y":-0.97},{"k":"b","s":14,"x":12,"y":-0.97},{"k":"b","s":14,"x":24,"y":-0.96},{"k":"b","s":14,"x":36,"y":-0.95},{"k":"b","s":14,"x":48,"y":-0.92},{"k":"b","s":14,"x":60,"y":-0.87},{"k":"b","s":14,"x":72,"y":-0.82},
{"k":"b","s":15,"x":-72,"y":-0.77},{"k":"b","s":15,"x":-60,"y":-0.72},{"k":"b","s":15,"x":-48,"y":-0.79},{"k":"b","s":15,"x":-36,"y":-0.84},{"k":"b","s":15,"x":-24,"y":-0.88},{"k":"b","s":15,"x":-12,"y":-0.92},{"k":"b","s":15,"x":0,"y":-0.93},{"k":"b","s":15,"x":12,"y":-0.9},{"k":"b","s":15,"x":24,"y":-0.84},{"k":"b","s":15,"x":36,"y":-0.72},{"k":"b","s":15,"x":48,"y":-0.55},{"k":"b","s":15,"x":60,"y":-0.38},{"k":"b","s":15,"x":72,"y":-0.28},
{"k":"g","s":21,"x":-72,"y":0.05},{"k":"g","s":21,"x":-64,"y":0.12},{"k":"g","s":21,"x":-56,"y":-0.1},{"k":"g","s":21,"x":-48,"y":-0.3},{"k":"g","s":21,"x":-40,"y":-0.35},{"k":"g","s":21,"x":-32,"y":-0.45},{"k":"g","s":21,"x":-24,"y":-0.47},{"k":"g","s":21,"x":-16,"y":-0.42},{"k":"g","s":21,"x":-8,"y":-0.4},{"k":"g","s":21,"x":0,"y":-0.52},{"k":"g","s":21,"x":8,"y":-0.05},{"k":"g","s":21,"x":16,"y":0.05},{"k":"g","s":21,"x":24,"y":0.12},{"k":"g","s":21,"x":32,"y":0.17},{"k":"g","s":21,"x":40,"y":0.2},{"k":"g","s":21,"x":48,"y":0.15},{"k":"g","s":21,"x":56,"y":0.18},{"k":"g","s":21,"x":64,"y":0.2},{"k":"g","s":21,"x":72,"y":0.15},
{"k":"g","s":22,"x":-72,"y":0.06},{"k":"g","s":22,"x":-64,"y":0.1},{"k":"g","s":22,"x":-56,"y":-0.05},{"k":"g","s":22,"x":-48,"y":-0.25},{"k":"g","s":22,"x":-40,"y":-0.42},{"k":"g","s":22,"x":-32,"y":-0.52},{"k":"g","s":22,"x":-24,"y":-0.55},{"k":"g","s":22,"x":-16,"y":-0.48},{"k":"g","s":22,"x":-8,"y":-0.45},{"k":"g","s":22,"x":0,"y":-0.58},{"k":"g","s":22,"x":8,"y":-0.22},{"k":"g","s":22,"x":16,"y":0.03},{"k":"g","s":22,"x":24,"y":0.1},{"k":"g","s":22,"x":32,"y":0.14},{"k":"g","s":22,"x":40,"y":0.16},{"k":"g","s":22,"x":48,"y":0.12},{"k":"g","s":22,"x":56,"y":0.14},{"k":"g","s":22,"x":64,"y":0.08},{"k":"g","s":22,"x":72,"y":0.18},
{"k":"g","s":23,"x":-72,"y":-0.24},{"k":"g","s":23,"x":-64,"y":-0.22},{"k":"g","s":23,"x":-56,"y":-0.3},{"k":"g","s":23,"x":-48,"y":-0.28},{"k":"g","s":23,"x":-40,"y":-0.36},{"k":"g","s":23,"x":-32,"y":-0.45},{"k":"g","s":23,"x":-24,"y":-0.47},{"k":"g","s":23,"x":-16,"y":-0.38},{"k":"g","s":23,"x":-8,"y":-0.4},{"k":"g","s":23,"x":0,"y":-0.5},{"k":"g","s":23,"x":8,"y":-0.3},{"k":"g","s":23,"x":16,"y":-0.05},{"k":"g","s":23,"x":24,"y":0.08},{"k":"g","s":23,"x":32,"y":0.12},{"k":"g","s":23,"x":40,"y":0.1},{"k":"g","s":23,"x":48,"y":0.14},{"k":"g","s":23,"x":56,"y":0.18},{"k":"g","s":23,"x":64,"y":0.1},{"k":"g","s":23,"x":72,"y":0.08},
{"k":"g","s":24,"x":-72,"y":-0.24},{"k":"g","s":24,"x":-64,"y":-0.3},{"k":"g","s":24,"x":-56,"y":-0.46},{"k":"g","s":24,"x":-48,"y":-0.64},{"k":"g","s":24,"x":-40,"y":-0.77},{"k":"g","s":24,"x":-32,"y":-0.82},{"k":"g","s":24,"x":-24,"y":-0.76},{"k":"g","s":24,"x":-16,"y":-0.72},{"k":"g","s":24,"x":-8,"y":-0.74},{"k":"g","s":24,"x":0,"y":-0.7},{"k":"g","s":24,"x":8,"y":-0.5},{"k":"g","s":24,"x":16,"y":-0.38},{"k":"g","s":24,"x":24,"y":-0.2},{"k":"g","s":24,"x":32,"y":-0.08},{"k":"g","s":24,"x":40,"y":-0.02},{"k":"g","s":24,"x":48,"y":0.08},{"k":"g","s":24,"x":56,"y":0.12},{"k":"g","s":24,"x":64,"y":0.14},{"k":"g","s":24,"x":72,"y":0.18}
],
"d":[
{"k":"b","s":1,"x":-72,"y":0.25},{"k":"b","s":1,"x":-66,"y":0.48},{"k":"b","s":1,"x":-60,"y":0.35},{"k":"b","s":1,"x":-54,"y":0.22},{"k":"b","s":1,"x":-48,"y":0.12},{"k":"b","s":1,"x":-42,"y":0.08},{"k":"b","s":1,"x":-36,"y":0.02},{"k":"b","s":1,"x":-30,"y":0.05},{"k":"b","s":1,"x":-24,"y":0.1},{"k":"b","s":1,"x":-18,"y":0.15},{"k":"b","s":1,"x":-12,"y":0.2},{"k":"b","s":1,"x":-6,"y":0.12},{"k":"b","s":1,"x":0,"y":0.05},{"k":"b","s":1,"x":6,"y":-0.25},{"k":"b","s":1,"x":12,"y":-0.3},{"k":"b","s":1,"x":18,"y":-0.22},{"k":"b","s":1,"x":24,"y":0.02},{"k":"b","s":1,"x":30,"y":0.22},{"k":"b","s":1,"x":36,"y":0.35},{"k":"b","s":1,"x":42,"y":0.3},{"k":"b","s":1,"x":48,"y":0.28},{"k":"b","s":1,"x":54,"y":0.1},{"k":"b","s":1,"x":60,"y":-0.15},{"k":"b","s":1,"x":66,"y":-0.3},{"k":"b","s":1,"x":72,"y":-0.2},
{"k":"b","s":2,"x":-72,"y":0.3},{"k":"b","s":2,"x":-66,"y":0.5},{"k":"b","s":2,"x":-60,"y":0.38},{"k":"b","s":2,"x":-54,"y":0.25},{"k":"b","s":2,"x":-48,"y":0.15},{"k":"b","s":2,"x":-42,"y":0.05},{"k":"b","s":2,"x":-36,"y":0.0},{"k":"b","s":2,"x":-30,"y":0.08},{"k":"b","s":2,"x":-24,"y":0.05},{"k":"b","s":2,"x":-18,"y":0.12},{"k":"b","s":2,"x":-12,"y":0.28},{"k":"b","s":2,"x":-6,"y":0.05},{"k":"b","s":2,"x":0,"y":0.0},{"k":"b","s":2,"x":6,"y":-0.3},{"k":"b","s":2,"x":12,"y":-0.35},{"k":"b","s":2,"x":18,"y":-0.28},{"k":"b","s":2,"x":24,"y":-0.05},{"k":"b","s":2,"x":30,"y":0.18},{"k":"b","s":2,"x":36,"y":0.3},{"k":"b","s":2,"x":42,"y":0.28},{"k":"b","s":2,"x":48,"y":0.22},{"k":"b","s":2,"x":54,"y":0.05},{"k":"b","s":2,"x":60,"y":-0.2},{"k":"b","s":2,"x":66,"y":-0.35},{"k":"b","s":2,"x":72,"y":-0.25},
{"k":"b","s":3,"x":-72,"y":0.4},{"k":"b","s":3,"x":-66,"y":0.32},{"k":"b","s":3,"x":-60,"y":0.2},{"k":"b","s":3,"x":-54,"y":0.3},{"k":"b","s":3,"x":-48,"y":0.15},{"k":"b","s":3,"x":-42,"y":0.05},{"k":"b","s":3,"x":-36,"y":0.05},{"k":"b","s":3,"x":-30,"y":0.02},{"k":"b","s":3,"x":-24,"y":0.1},{"k":"b","s":3,"x":-18,"y":0.18},{"k":"b","s":3,"x":-12,"y":0.15},{"k":"b","s":3,"x":-6,"y":0.1},{"k":"b","s":3,"x":0,"y":0.02},{"k":"b","s":3,"x":6,"y":-0.35},{"k":"b","s":3,"x":12,"y":-0.38},{"k":"b","s":3,"x":18,"y":-0.3},{"k":"b","s":3,"x":24,"y":-0.02},{"k":"b","s":3,"x":30,"y":0.2},{"k":"b","s":3,"x":36,"y":0.32},{"k":"b","s":3,"x":42,"y":0.25},{"k":"b","s":3,"x":48,"y":0.25},{"k":"b","s":3,"x":54,"y":0.15},{"k":"b","s":3,"x":60,"y":-0.1},{"k":"b","s":3,"x":66,"y":-0.25},{"k":"b","s":3,"x":72,"y":-0.3},
{"k":"b","s":4,"x":-72,"y":0.2},{"k":"b","s":4,"x":-66,"y":0.38},{"k":"b","s":4,"x":-60,"y":0.28},{"k":"b","s":4,"x":-54,"y":0.1},{"k":"b","s":4,"x":-48,"y":0.05},{"k":"b","s":4,"x":-42,"y":0.02},{"k":"b","s":4,"x":-36,"y":-0.05},{"k":"b","s":4,"x":-30,"y":0.0},{"k":"b","s":4,"x":-24,"y":0.02},{"k":"b","s":4,"x":-18,"y":0.1},{"k":"b","s":4,"x":-12,"y":0.05},{"k":"b","s":4,"x":-6,"y":0.02},{"k":"b","s":4,"x":0,"y":-0.05},{"k":"b","s":4,"x":6,"y":-0.38},{"k":"b","s":4,"x":12,"y":-0.4},{"k":"b","s":4,"x":18,"y":-0.35},{"k":"b","s":4,"x":24,"y":-0.15},{"k":"b","s":4,"x":30,"y":0.1},{"k":"b","s":4,"x":36,"y":0.25},{"k":"b","s":4,"x":42,"y":0.15},{"k":"b","s":4,"x":48,"y":0.2},{"k":"b","s":4,"x":54,"y":0.08},{"k":"b","s":4,"x":60,"y":-0.25},{"k":"b","s":4,"x":66,"y":-0.4},{"k":"b","s":4,"x":72,"y":-0.28},
{"k":"b","s":5,"x":-72,"y":0.15},{"k":"b","s":5,"x":-66,"y":0.22},{"k":"b","s":5,"x":-60,"y":0.18},{"k":"b","s":5,"x":-54,"y":0.08},{"k":"b","s":5,"x":-48,"y":0.02},{"k":"b","s":5,"x":-42,"y":-0.05},{"k":"b","s":5,"x":-36,"y":-0.02},{"k":"b","s":5,"x":-30,"y":-0.05},{"k":"b","s":5,"x":-24,"y":0.0},{"k":"b","s":5,"x":-18,"y":0.05},{"k":"b","s":5,"x":-12,"y":0.08},{"k":"b","s":5,"x":-6,"y":0.0},{"k":"b","s":5,"x":0,"y":-0.05},{"k":"b","s":5,"x":6,"y":-0.4},{"k":"b","s":5,"x":12,"y":-0.45},{"k":"b","s":5,"x":18,"y":-0.35},{"k":"b","s":5,"x":24,"y":-0.1},{"k":"b","s":5,"x":30,"y":0.05},{"k":"b","s":5,"x":36,"y":0.15},{"k":"b","s":5,"x":42,"y":0.2},{"k":"b","s":5,"x":48,"y":0.12},{"k":"b","s":5,"x":54,"y":-0.05},{"k":"b","s":5,"x":60,"y":-0.3},{"k":"b","s":5,"x":66,"y":-0.35},{"k":"b","s":5,"x":72,"y":-0.4},
{"k":"b","s":6,"x":-72,"y":0.35},{"k":"b","s":6,"x":-66,"y":0.2},{"k":"b","s":6,"x":-60,"y":0.25},{"k":"b","s":6,"x":-54,"y":0.1},{"k":"b","s":6,"x":-48,"y":0.0},{"k":"b","s":6,"x":-42,"y":0.05},{"k":"b","s":6,"x":-36,"y":0.0},{"k":"b","s":6,"x":-30,"y":-0.08},{"k":"b","s":6,"x":-24,"y":-0.02},{"k":"b","s":6,"x":-18,"y":0.02},{"k":"b","s":6,"x":-12,"y":-0.05},{"k":"b","s":6,"x":-6,"y":-0.05},{"k":"b","s":6,"x":0,"y":-0.1},{"k":"b","s":6,"x":6,"y":-0.45},{"k":"b","s":6,"x":12,"y":-0.5},{"k":"b","s":6,"x":18,"y":-0.4},{"k":"b","s":6,"x":24,"y":-0.25},{"k":"b","s":6,"x":30,"y":-0.1},{"k":"b","s":6,"x":36,"y":0.05},{"k":"b","s":6,"x":42,"y":0.02},{"k":"b","s":6,"x":48,"y":-0.1},{"k":"b","s":6,"x":54,"y":-0.2},{"k":"b","s":6,"x":60,"y":-0.35},{"k":"b","s":6,"x":66,"y":-0.45},{"k":"b","s":6,"x":72,"y":-0.4},
{"k":"b","s":7,"x":-72,"y":0.1},{"k":"b","s":7,"x":-66,"y":0.15},{"k":"b","s":7,"x":-60,"y":0.08},{"k":"b","s":7,"x":-54,"y":0.05},{"k":"b","s":7,"x":-48,"y":0.0},{"k":"b","s":7,"x":-42,"y":-0.05},{"k":"b","s":7,"x":-36,"y":-0.1},{"k":"b","s":7,"x":-30,"y":-0.15},{"k":"b","s":7,"x":-24,"y":-0.18},{"k":"b","s":7,"x":-18,"y":-0.2},{"k":"b","s":7,"x":-12,"y":-0.22},{"k":"b","s":7,"x":-6,"y":-0.28},{"k":"b","s":7,"x":0,"y":-0.1},{"k":"b","s":7,"x":6,"y":-0.52},{"k":"b","s":7,"x":12,"y":-0.55},{"k":"b","s":7,"x":18,"y":-0.45},{"k":"b","s":7,"x":24,"y":-0.35},{"k":"b","s":7,"x":30,"y":-0.2},{"k":"b","s":7,"x":36,"y":-0.1},{"k":"b","s":7,"x":42,"y":-0.25},{"k":"b","s":7,"x":48,"y":-0.4},{"k":"b","s":7,"x":54,"y":-0.45},{"k":"b","s":7,"x":60,"y":-0.42},{"k":"b","s":7,"x":66,"y":-0.4},{"k":"b","s":7,"x":72,"y":-0.45},
{"k":"b","s":8,"x":-72,"y":0.05},{"k":"b","s":8,"x":-66,"y":0.05},{"k":"b","s":8,"x":-60,"y":0.0},{"k":"b","s":8,"x":-54,"y":-0.05},{"k":"b","s":8,"x":-48,"y":-0.1},{"k":"b","s":8,"x":-42,"y":-0.05},{"k":"b","s":8,"x":-36,"y":-0.2},{"k":"b","s":8,"x":-30,"y":-0.28},{"k":"b","s":8,"x":-24,"y":-0.3},{"k":"b","s":8,"x":-18,"y":-0.35},{"k":"b","s":8,"x":-12,"y":-0.33},{"k":"b","s":8,"x":-6,"y":-0.35},{"k":"b","s":8,"x":0,"y":-0.3},{"k":"b","s":8,"x":6,"y":-0.55},{"k":"b","s":8,"x":12,"y":-0.6},{"k":"b","s":8,"x":18,"y":-0.5},{"k":"b","s":8,"x":24,"y":-0.42},{"k":"b","s":8,"x":30,"y":-0.3},{"k":"b","s":8,"x":36,"y":-0.28},{"k":"b","s":8,"x":42,"y":-0.3},{"k":"b","s":8,"x":48,"y":-0.35},{"k":"b","s":8,"x":54,"y":-0.4},{"k":"b","s":8,"x":60,"y":-0.45},{"k":"b","s":8,"x":66,"y":-0.4},{"k":"b","s":8,"x":72,"y":-0.42},
{"k":"b","s":9,"x":-72,"y":0.22},{"k":"b","s":9,"x":-66,"y":0.12},{"k":"b","s":9,"x":-60,"y":0.15},{"k":"b","s":9,"x":-54,"y":0.05},{"k":"b","s":9,"x":-48,"y":-0.02},{"k":"b","s":9,"x":-42,"y":-0.08},{"k":"b","s":9,"x":-36,"y":-0.12},{"k":"b","s":9,"x":-30,"y":-0.1},{"k":"b","s":9,"x":-24,"y":-0.15},{"k":"b","s":9,"x":-18,"y":-0.05},{"k":"b","s":9,"x":-12,"y":-0.08},{"k":"b","s":9,"x":-6,"y":-0.15},{"k":"b","s":9,"x":0,"y":-0.12},{"k":"b","s":9,"x":6,"y":-0.4},{"k":"b","s":9,"x":12,"y":-0.45},{"k":"b","s":9,"x":18,"y":-0.35},{"k":"b","s":9,"x":24,"y":-0.3},{"k":"b","s":9,"x":30,"y":-0.2},{"k":"b","s":9,"x":36,"y":-0.25},{"k":"b","s":9,"x":42,"y":-0.1},{"k":"b","s":9,"x":48,"y":-0.25},{"k":"b","s":9,"x":54,"y":-0.3},{"k":"b","s":9,"x":60,"y":-0.35},{"k":"b","s":9,"x":66,"y":-0.45},{"k":"b","s":9,"x":72,"y":-0.38},
{"k":"b","s":10,"x":-72,"y":0.18},{"k":"b","s":10,"x":-66,"y":0.3},{"k":"b","s":10,"x":-60,"y":0.15},{"k":"b","s":10,"x":-54,"y":0.12},{"k":"b","s":10,"x":-48,"y":0.05},{"k":"b","s":10,"x":-42,"y":0.02},{"k":"b","s":10,"x":-36,"y":-0.1},{"k":"b","s":10,"x":-30,"y":-0.05},{"k":"b","s":10,"x":-24,"y":-0.1},{"k":"b","s":10,"x":-18,"y":-0.2},{"k":"b","s":10,"x":-12,"y":-0.15},{"k":"b","s":10,"x":-6,"y":-0.1},{"k":"b","s":10,"x":0,"y":-0.08},{"k":"b","s":10,"x":6,"y":-0.48},{"k":"b","s":10,"x":12,"y":-0.5},{"k":"b","s":10,"x":18,"y":-0.42},{"k":"b","s":10,"x":24,"y":-0.3},{"k":"b","s":10,"x":30,"y":-0.32},{"k":"b","s":10,"x":36,"y":-0.25},{"k":"b","s":10,"x":42,"y":-0.6},{"k":"b","s":10,"x":48,"y":-0.5},{"k":"b","s":10,"x":54,"y":-0.45},{"k":"b","s":10,"x":60,"y":-0.42},{"k":"b","s":10,"x":66,"y":-0.4},{"k":"b","s":10,"x":72,"y":-0.42},
{"k":"b","s":11,"x":-72,"y":0.12},{"k":"b","s":11,"x":-66,"y":0.28},{"k":"b","s":11,"x":-60,"y":0.2},{"k":"b","s":11,"x":-54,"y":0.15},{"k":"b","s":11,"x":-48,"y":0.08},{"k":"b","s":11,"x":-42,"y":0.0},{"k":"b","s":11,"x":-36,"y":0.05},{"k":"b","s":11,"x":-30,"y":0.02},{"k":"b","s":11,"x":-24,"y":0.08},{"k":"b","s":11,"x":-18,"y":0.12},{"k":"b","s":11,"x":-12,"y":0.1},{"k":"b","s":11,"x":-6,"y":0.05},{"k":"b","s":11,"x":0,"y":0.02},{"k":"b","s":11,"x":6,"y":-0.3},{"k":"b","s":11,"x":12,"y":-0.32},{"k":"b","s":11,"x":18,"y":-0.25},{"k":"b","s":11,"x":24,"y":-0.05},{"k":"b","s":11,"x":30,"y":0.15},{"k":"b","s":11,"x":36,"y":0.3},{"k":"b","s":11,"x":42,"y":0.2},{"k":"b","s":11,"x":48,"y":0.1},{"k":"b","s":11,"x":54,"y":-0.1},{"k":"b","s":11,"x":60,"y":-0.3},{"k":"b","s":11,"x":66,"y":-0.25},{"k":"b","s":11,"x":72,"y":-0.15},
{"k":"b","s":12,"x":-72,"y":0.32},{"k":"b","s":12,"x":-66,"y":0.42},{"k":"b","s":12,"x":-60,"y":0.3},{"k":"b","s":12,"x":-54,"y":0.22},{"k":"b","s":12,"x":-48,"y":0.1},{"k":"b","s":12,"x":-42,"y":0.08},{"k":"b","s":12,"x":-36,"y":0.05},{"k":"b","s":12,"x":-30,"y":0.1},{"k":"b","s":12,"x":-24,"y":0.05},{"k":"b","s":12,"x":-18,"y":0.15},{"k":"b","s":12,"x":-12,"y":0.18},{"k":"b","s":12,"x":-6,"y":0.08},{"k":"b","s":12,"x":0,"y":-0.02},{"k":"b","s":12,"x":6,"y":-0.32},{"k":"b","s":12,"x":12,"y":-0.28},{"k":"b","s":12,"x":18,"y":-0.3},{"k":"b","s":12,"x":24,"y":-0.08},{"k":"b","s":12,"x":30,"y":0.2},{"k":"b","s":12,"x":36,"y":0.28},{"k":"b","s":12,"x":42,"y":0.22},{"k":"b","s":12,"x":48,"y":0.25},{"k":"b","s":12,"x":54,"y":0.12},{"k":"b","s":12,"x":60,"y":-0.05},{"k":"b","s":12,"x":66,"y":-0.28},{"k":"b","s":12,"x":72,"y":-0.32},
{"k":"b","s":13,"x":-72,"y":0.05},{"k":"b","s":13,"x":-66,"y":0.2},{"k":"b","s":13,"x":-60,"y":0.1},{"k":"b","s":13,"x":-54,"y":0.05},{"k":"b","s":13,"x":-48,"y":-0.02},{"k":"b","s":13,"x":-42,"y":0.02},{"k":"b","s":13,"x":-36,"y":-0.05},{"k":"b","s":13,"x":-30,"y":-0.1},{"k":"b","s":13,"x":-24,"y":-0.15},{"k":"b","s":13,"x":-18,"y":-0.12},{"k":"b","s":13,"x":-12,"y":-0.1},{"k":"b","s":13,"x":-6,"y":-0.15},{"k":"b","s":13,"x":0,"y":-0.2},{"k":"b","s":13,"x":6,"y":-0.45},{"k":"b","s":13,"x":12,"y":-0.5},{"k":"b","s":13,"x":18,"y":-0.48},{"k":"b","s":13,"x":24,"y":-0.4},{"k":"b","s":13,"x":30,"y":-0.32},{"k":"b","s":13,"x":36,"y":-0.28},{"k":"b","s":13,"x":42,"y":-0.32},{"k":"b","s":13,"x":48,"y":-0.4},{"k":"b","s":13,"x":54,"y":-0.38},{"k":"b","s":13,"x":60,"y":-0.42},{"k":"b","s":13,"x":66,"y":-0.38},{"k":"b","s":13,"x":72,"y":-0.45},
{"k":"b","s":14,"x":-72,"y":0.28},{"k":"b","s":14,"x":-66,"y":0.18},{"k":"b","s":14,"x":-60,"y":0.25},{"k":"b","s":14,"x":-54,"y":0.15},{"k":"b","s":14,"x":-48,"y":0.05},{"k":"b","s":14,"x":-42,"y":0.0},{"k":"b","s":14,"x":-36,"y":0.02},{"k":"b","s":14,"x":-30,"y":0.05},{"k":"b","s":14,"x":-24,"y":-0.02},{"k":"b","s":14,"x":-18,"y":0.05},{"k":"b","s":14,"x":-12,"y":0.08},{"k":"b","s":14,"x":-6,"y":-0.02},{"k":"b","s":14,"x":0,"y":-0.05},{"k":"b","s":14,"x":6,"y":-0.38},{"k":"b","s":14,"x":12,"y":-0.42},{"k":"b","s":14,"x":18,"y":-0.35},{"k":"b","s":14,"x":24,"y":-0.2},{"k":"b","s":14,"x":30,"y":0.0},{"k":"b","s":14,"x":36,"y":0.15},{"k":"b","s":14,"x":42,"y":0.1},{"k":"b","s":14,"x":48,"y":0.05},{"k":"b","s":14,"x":54,"y":-0.1},{"k":"b","s":14,"x":60,"y":-0.35},{"k":"b","s":14,"x":66,"y":-0.3},{"k":"b","s":14,"x":72,"y":-0.35},
{"k":"g","s":21,"x":-72,"y":0.05},{"k":"g","s":21,"x":-66,"y":0.3},{"k":"g","s":21,"x":-60,"y":0.25},{"k":"g","s":21,"x":-54,"y":0.12},{"k":"g","s":21,"x":-48,"y":0.05},{"k":"g","s":21,"x":-42,"y":0.0},{"k":"g","s":21,"x":-36,"y":-0.05},{"k":"g","s":21,"x":-30,"y":0.02},{"k":"g","s":21,"x":-24,"y":0.18},{"k":"g","s":21,"x":-18,"y":0.32},{"k":"g","s":21,"x":-12,"y":0.2},{"k":"g","s":21,"x":-6,"y":0.05},{"k":"g","s":21,"x":0,"y":0.02},{"k":"g","s":21,"x":6,"y":-0.02},{"k":"g","s":21,"x":12,"y":-0.2},{"k":"g","s":21,"x":18,"y":-0.22},{"k":"g","s":21,"x":24,"y":0.05},{"k":"g","s":21,"x":30,"y":0.2},{"k":"g","s":21,"x":36,"y":0.25},{"k":"g","s":21,"x":42,"y":0.15},{"k":"g","s":21,"x":48,"y":0.2},{"k":"g","s":21,"x":54,"y":0.1},{"k":"g","s":21,"x":60,"y":0.02},{"k":"g","s":21,"x":66,"y":-0.05},{"k":"g","s":21,"x":72,"y":-0.05},
{"k":"g","s":22,"x":-72,"y":-0.02},{"k":"g","s":22,"x":-66,"y":0.1},{"k":"g","s":22,"x":-60,"y":-0.05},{"k":"g","s":22,"x":-54,"y":-0.2},{"k":"g","s":22,"x":-48,"y":-0.15},{"k":"g","s":22,"x":-42,"y":-0.3},{"k":"g","s":22,"x":-36,"y":-0.25},{"k":"g","s":22,"x":-30,"y":-0.28},{"k":"g","s":22,"x":-24,"y":-0.1},{"k":"g","s":22,"x":-18,"y":0.0},{"k":"g","s":22,"x":-12,"y":0.05},{"k":"g","s":22,"x":-6,"y":0.02},{"k":"g","s":22,"x":0,"y":-0.02},{"k":"g","s":22,"x":6,"y":-0.1},{"k":"g","s":22,"x":12,"y":-0.2},{"k":"g","s":22,"x":18,"y":-0.15},{"k":"g","s":22,"x":24,"y":0.02},{"k":"g","s":22,"x":30,"y":0.1},{"k":"g","s":22,"x":36,"y":0.05},{"k":"g","s":22,"x":42,"y":0.18},{"k":"g","s":22,"x":48,"y":0.15},{"k":"g","s":22,"x":54,"y":0.0},{"k":"g","s":22,"x":60,"y":-0.1},{"k":"g","s":22,"x":66,"y":-0.15},{"k":"g","s":22,"x":72,"y":-0.1},
{"k":"g","s":23,"x":-72,"y":0.1},{"k":"g","s":23,"x":-66,"y":0.4},{"k":"g","s":23,"x":-60,"y":0.25},{"k":"g","s":23,"x":-54,"y":0.02},{"k":"g","s":23,"x":-48,"y":-0.08},{"k":"g","s":23,"x":-42,"y":-0.12},{"k":"g","s":23,"x":-36,"y":-0.02},{"k":"g","s":23,"x":-30,"y":0.05},{"k":"g","s":23,"x":-24,"y":0.1},{"k":"g","s":23,"x":-18,"y":0.12},{"k":"g","s":23,"x":-12,"y":0.08},{"k":"g","s":23,"x":-6,"y":0.05},{"k":"g","s":23,"x":0,"y":0.0},{"k":"g","s":23,"x":6,"y":-0.05},{"k":"g","s":23,"x":12,"y":-0.22},{"k":"g","s":23,"x":18,"y":-0.15},{"k":"g","s":23,"x":24,"y":0.02},{"k":"g","s":23,"x":30,"y":0.15},{"k":"g","s":23,"x":36,"y":0.2},{"k":"g","s":23,"x":42,"y":0.1},{"k":"g","s":23,"x":48,"y":0.15},{"k":"g","s":23,"x":54,"y":0.08},{"k":"g","s":23,"x":60,"y":-0.05},{"k":"g","s":23,"x":66,"y":-0.15},{"k":"g","s":23,"x":72,"y":-0.1}
],
"la":[{"k":"t","x":-71.7},{"k":"t","x":-20},{"k":"t","x":18.1},{"k":"t","x":20.8},{"k":"t","x":22.4},{"k":"t","x":24},{"k":"t","x":25.6},{"k":"t","x":27.2},{"k":"t","x":28.9},{"k":"t","x":36.1},{"k":"t","x":36.3},{"k":"t","x":45},{"k":"t","x":52.9},{"k":"m","x":19.5}],
"lb":[{"k":"t","x":0.05},{"k":"t","x":5.9},{"k":"t","x":7.9},{"k":"t","x":10},{"k":"t","x":10.6},{"k":"t","x":11.4},{"k":"t","x":12.1},{"k":"t","x":12.9},{"k":"t","x":14.6},{"k":"t","x":16.8},{"k":"t","x":17.8},{"k":"t","x":20},{"k":"t","x":23.2},{"k":"t","x":24},{"k":"m","x":14.1}],
"lc":[{"k":"t","x":-27},{"k":"t","x":-23},{"k":"t","x":0.05},{"k":"t","x":0.6},{"k":"t","x":1.1},{"k":"t","x":1.7},{"k":"t","x":3},{"k":"t","x":4},{"k":"t","x":4.8},{"k":"t","x":8.9},{"k":"t","x":10.7},{"k":"t","x":11.8},{"k":"t","x":16.8},{"k":"t","x":18.9},{"k":"m","x":3.3}],
"ld":[{"k":"t","x":6.7},{"k":"t","x":8.4},{"k":"t","x":10.7},{"k":"t","x":11.4},{"k":"t","x":12.1},{"k":"t","x":12.9},{"k":"t","x":13.8},{"k":"t","x":16.1},{"k":"t","x":60.1},{"k":"t","x":63.9},{"k":"t","x":65.5},{"k":"t","x":66.6},{"k":"t","x":67.7},{"k":"t","x":69},{"k":"m","x":35.3}]
},
"vconcat":[
{"width":445,"height":278,"title":"Vortex Tilt",
 "encoding":{"x":{"field":"x","type":"quantitative","scale":{"domain":[-72,72],"nice":false,"zero":false},"axis":{"values":[-72,-48,-24,0,24,48,72],"labels":false,"title":null}}},
 "layer":[
  {"data":{"name":"a"},"transform":[{"filter":"datum.k=='b'"}],"mark":{"type":"line","strokeWidth":2.2,"interpolate":"monotone"},"encoding":{"y":{"field":"y","type":"quantitative","scale":{"domain":[-1.1,1],"nice":false,"zero":false},"axis":{"values":[-1,-0.5,0,0.5,1],"format":".1f","title":"Pearson r","titlePadding":12}},"detail":{"field":"s"},"color":{"field":"k","type":"nominal","scale":{"domain":["b","g","t","m"],"range":["#000000","#a9a9a9","#ff5c5c","#ff0000"]},"legend":{"title":null,"orient":"bottom-left","offset":10,"labelExpr":"datum.label=='b'?'SH7.5_Moist50':datum.label=='g'?'genesis timing > 168-h':datum.label=='t'?'time-lag':'mean time-lag'","symbolType":"M-0.97,0L2.23,0","symbolSize":676,"symbolStrokeWidth":3.2,"labelFontSize":18.5,"labelFont":"DejaVu Sans","labelColor":"#000000","rowPadding":1.5,"padding":3,"fillColor":"rgba(255,255,255,0.8)","strokeColor":"#cccccc","cornerRadius":4,"labelOffset":27,"labelLimit":400}}}},
  {"data":{"name":"a"},"transform":[{"filter":"datum.k=='g'"}],"mark":{"type":"line","strokeWidth":2.2},"encoding":{"y":{"field":"y","type":"quantitative"},"detail":{"field":"s"},"color":{"field":"k","type":"nominal"}}},
  {"data":{"values":[{"x":1}]},"mark":{"type":"rule","color":"#808080","strokeWidth":5.5},"encoding":{}},
  {"data":{"name":"la"},"mark":{"type":"rule","strokeWidth":2.2},"encoding":{"color":{"field":"k","type":"nominal"},"strokeDash":{"field":"k","type":"nominal","scale":{"domain":["b","g","t","m"],"range":[[1,0],[1,0],[2.5,5],[1,0]]},"legend":{"title":null,"labelExpr":"datum.label=='b'?'SH7.5_Moist50':datum.label=='g'?'genesis timing > 168-h':datum.label=='t'?'time-lag':'mean time-lag'"}},"strokeWidth":{"condition":{"test":"datum.k=='m'","value":3},"value":2.2}}},
  {"data":{"values":[{"x":-72,"y":1,"t":"(a)"}]},"mark":{"type":"text","fontSize":33,"fontWeight":"bold","align":"right","baseline":"alphabetic","dx":-52,"dy":6,"color":"#000000","clip":false},"encoding":{"text":{"field":"t","type":"nominal"},"y":{"field":"y","type":"quantitative"}}}
 ]},
{"width":445,"height":278,"title":"6km avg. Vorticity",
 "encoding":{"x":{"field":"x","type":"quantitative","scale":{"domain":[-72,72],"nice":false,"zero":false},"axis":{"values":[-72,-48,-24,0,24,48,72],"labels":false,"title":null}}},
 "layer":[
  {"data":{"name":"b"},"transform":[{"filter":"datum.k=='b'"}],"mark":{"type":"line","strokeWidth":2.2,"interpolate":"monotone"},"encoding":{"y":{"field":"y","type":"quantitative","scale":{"domain":[-1.1,1],"nice":false,"zero":false},"axis":{"values":[-1,-0.5,0,0.5,1],"format":".1f","title":"Pearson r","titlePadding":12}},"detail":{"field":"s"},"color":{"field":"k","type":"nominal","scale":{"domain":["b","g","t","m"],"range":["#000000","#a9a9a9","#ff5c5c","#ff0000"]},"legend":null}}},
  {"data":{"name":"b"},"transform":[{"filter":"datum.k=='g'"}],"mark":{"type":"line","strokeWidth":2.2},"encoding":{"y":{"field":"y","type":"quantitative"},"detail":{"field":"s"},"color":{"field":"k","type":"nominal","legend":null}}},
  {"data":{"values":[{"x":1}]},"mark":{"type":"rule","color":"#808080","strokeWidth":5.5},"encoding":{}},
  {"data":{"name":"lb"},"mark":{"type":"rule","strokeWidth":2.2},"encoding":{"color":{"field":"k","type":"nominal","legend":null},"strokeDash":{"field":"k","type":"nominal","scale":{"domain":["b","g","t","m"],"range":[[1,0],[1,0],[2.5,5],[1,0]]},"legend":null},"strokeWidth":{"condition":{"test":"datum.k=='m'","value":3},"value":2.2}}},
  {"data":{"values":[{"x":-72,"y":1,"t":"(b)"}]},"mark":{"type":"text","fontSize":33,"fontWeight":"bold","align":"right","baseline":"alphabetic","dx":-52,"dy":6,"color":"#000000","clip":false},"encoding":{"text":{"field":"t","type":"nominal"},"y":{"field":"y","type":"quantitative"}}}
 ]},
{"width":445,"height":278,"title":"Lowlevel Conv. Coverage",
 "encoding":{"x":{"field":"x","type":"quantitative","scale":{"domain":[-72,72],"nice":false,"zero":false},"axis":{"values":[-72,-48,-24,0,24,48,72],"labels":false,"title":null}}},
 "layer":[
  {"data":{"name":"c"},"transform":[{"filter":"datum.k=='b'"}],"mark":{"type":"line","strokeWidth":2.2,"interpolate":"monotone"},"encoding":{"y":{"field":"y","type":"quantitative","scale":{"domain":[-1.1,1],"nice":false,"zero":false},"axis":{"values":[-1,-0.5,0,0.5,1],"format":".1f","title":"Pearson r","titlePadding":12}},"detail":{"field":"s"},"color":{"field":"k","type":"nominal","scale":{"domain":["b","g","t","m"],"range":["#000000","#a9a9a9","#ff5c5c","#ff0000"]},"legend":null}}},
  {"data":{"name":"c"},"transform":[{"filter":"datum.k=='g'"}],"mark":{"type":"line","strokeWidth":2.2},"encoding":{"y":{"field":"y","type":"quantitative"},"detail":{"field":"s"},"color":{"field":"k","type":"nominal","legend":null}}},
  {"data":{"values":[{"x":1}]},"mark":{"type":"rule","color":"#808080","strokeWidth":5.5},"encoding":{}},
  {"data":{"name":"lc"},"mark":{"type":"rule","strokeWidth":2.2},"encoding":{"color":{"field":"k","type":"nominal","legend":null},"strokeDash":{"field":"k","type":"nominal","scale":{"domain":["b","g","t","m"],"range":[[1,0],[1,0],[2.5,5],[1,0]]},"legend":null},"strokeWidth":{"condition":{"test":"datum.k=='m'","value":3},"value":2.2}}},
  {"data":{"values":[{"x":-72,"y":1,"t":"(c)"}]},"mark":{"type":"text","fontSize":33,"fontWeight":"bold","align":"right","baseline":"alphabetic","dx":-52,"dy":6,"color":"#000000","clip":false},"encoding":{"text":{"field":"t","type":"nominal"},"y":{"field":"y","type":"quantitative"}}}
 ]},
{"width":445,"height":278,"title":"Midlevel Conv. Coverage",
 "encoding":{"x":{"field":"x","type":"quantitative","scale":{"domain":[-72,72],"nice":false,"zero":false},"axis":{"values":[-72,-48,-24,0,24,48,72],"labelExpr":"''+datum.value","title":"Offset (hours)","titleFontSize":20.5,"titlePadding":3,"labelPadding":5}}},
 "layer":[
  {"data":{"name":"d"},"transform":[{"filter":"datum.k=='b'"}],"mark":{"type":"line","strokeWidth":2.2},"encoding":{"y":{"field":"y","type":"quantitative","scale":{"domain":[-1.1,1],"nice":false,"zero":false},"axis":{"values":[-1,-0.5,0,0.5,1],"format":".1f","title":"Pearson r","titlePadding":12}},"detail":{"field":"s"},"color":{"field":"k","type":"nominal","scale":{"domain":["b","g","t","m"],"range":["#000000","#a9a9a9","#ff5c5c","#ff0000"]},"legend":null}}},
  {"data":{"name":"d"},"transform":[{"filter":"datum.k=='g'"}],"mark":{"type":"line","strokeWidth":2.2},"encoding":{"y":{"field":"y","type":"quantitative"},"detail":{"field":"s"},"color":{"field":"k","type":"nominal","legend":null}}},
  {"data":{"values":[{"x":1}]},"mark":{"type":"rule","color":"#808080","strokeWidth":5.5},"encoding":{}},
  {"data":{"name":"ld"},"mark":{"type":"rule","strokeWidth":2.2},"encoding":{"color":{"field":"k","type":"nominal","legend":null},"strokeDash":{"field":"k","type":"nominal","scale":{"domain":["b","g","t","m"],"range":[[1,0],[1,0],[2.5,5],[1,0]]},"legend":null},"strokeWidth":{"condition":{"test":"datum.k=='m'","value":3},"value":2.2}}},
  {"data":{"values":[{"x":-72,"y":1,"t":"(d)"}]},"mark":{"type":"text","fontSize":33,"fontWeight":"bold","align":"right","baseline":"alphabetic","dx":-52,"dy":6,"color":"#000000","clip":false},"encoding":{"text":{"field":"t","type":"nominal"},"y":{"field":"y","type":"quantitative"}}}
 ]}
]
}
